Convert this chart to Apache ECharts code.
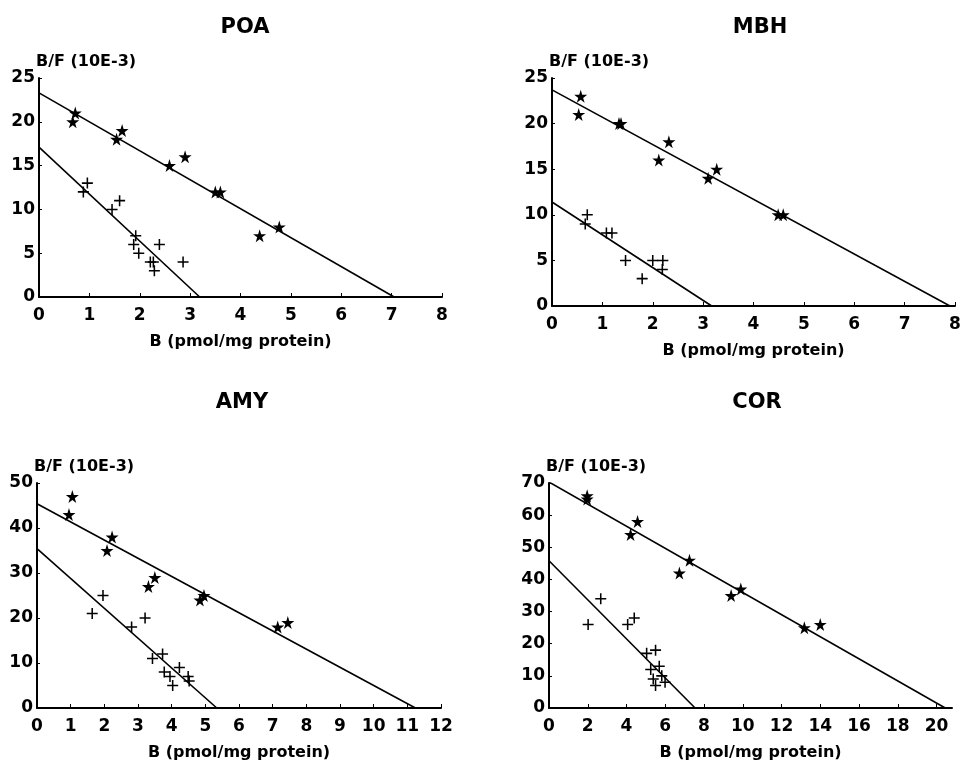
<!DOCTYPE html>
<html>
<head>
<meta charset="utf-8">
<script src="https://cdn.jsdelivr.net/npm/echarts@6/dist/echarts.min.js"></script>
<style>
  html, body { margin: 0; padding: 0; background: #fff; }
  #chart { width: 964px; height: 762px; }
</style>
</head>
<body>
<div id="chart"></div>
<script>
// panel names
const panels = ["POA", "MBH", "AMY", "COR"];

// POA
const poaStars = [[0.67, 20], [0.72, 21], [1.54, 18], [1.65, 19], [2.59, 15], [2.9, 16], [3.5, 12], [3.6, 12], [4.38, 7], [4.77, 8]];
const poaPlus = [[0.88, 12], [0.96, 13], [1.45, 10], [1.6, 11], [1.88, 6], [1.92, 7], [1.98, 5], [2.21, 4], [2.27, 4], [2.29, 3], [2.39, 6], [2.86, 4]];
const poaStarFit = [[0, 23.3], [7.05, 0]];
const poaPlusFit = [[0, 17.1], [3.19, 0]];

// MBH
const mbhStars = [[0.57, 23], [0.53, 21], [1.33, 20], [1.37, 20], [2.32, 18], [2.12, 16], [3.1, 14], [3.27, 15], [4.49, 10], [4.59, 10]];
const mbhPlus = [[0.7, 10], [0.66, 9], [1.08, 8], [1.19, 8], [1.46, 5], [1.79, 3], [2.0, 5], [2.2, 5], [2.19, 4]];
const mbhStarFit = [[0, 23.7], [7.9, 0]];
const mbhPlusFit = [[0, 11.4], [3.17, 0]];

// AMY
const amyStars = [[1.05, 47], [0.95, 43], [2.23, 38], [2.08, 35], [3.31, 27], [3.5, 29], [4.84, 24], [4.96, 25], [7.15, 18], [7.45, 19]];
const amyPlus = [[1.64, 21], [1.96, 25], [2.81, 18], [3.21, 20], [3.43, 11], [3.73, 12], [3.78, 8], [3.95, 7], [4.03, 5], [4.23, 9], [4.49, 7], [4.52, 6]];
const amyStarFit = [[0, 45.4], [11.24, 0]];
const amyPlusFit = [[0, 35.4], [5.34, 0]];

// COR
const corStars = [[1.97, 66], [1.97, 65], [4.21, 54], [4.57, 58], [7.25, 46], [6.73, 42], [9.4, 35], [9.9, 37], [13.18, 25], [14.0, 26]];
const corPlus = [[2.02, 26], [2.67, 34], [4.06, 26], [4.4, 28], [5.04, 17], [5.5, 18], [5.25, 12], [5.69, 13], [5.38, 9], [5.5, 7], [5.82, 10], [5.99, 8]];
const corStarFit = [[0, 70.3], [20.45, 0]];
const corPlusFit = [[0, 45.8], [7.54, 0]];

// axis ranges
const xMaxes = [8, 8, 12, 20.8];
const xSteps = [1, 1, 1, 2];
const yMaxes = [25, 25, 50, 70];
const ySteps = [5, 5, 10, 10];

const xName = "B (pmol/mg protein)";
const yName = "B/F (10E-3)";

const allStars = [poaStars, mbhStars, amyStars, corStars];
const allPlus = [poaPlus, mbhPlus, amyPlus, corPlus];
const allStarFit = [poaStarFit, mbhStarFit, amyStarFit, corStarFit];
const allPlusFit = [poaPlusFit, mbhPlusFit, amyPlusFit, corPlusFit];

const font = "DejaVu Sans";
const starPath = "path://M50,0 L61,35 L98,35 L68,57 L79,91 L50,70 L21,91 L32,57 L2,35 L39,35 Z";
const plusPath = "path://M4.3,0h1.4v10h-1.4zM0,4.3h10v1.4h-10z";

const grids = [
  { left: 39, top: 78, width: 403, height: 219 },
  { left: 552, top: 78, width: 403, height: 228 },
  { left: 37, top: 483, width: 404, height: 227 },
  { left: 549, top: 483, width: 403, height: 226 },
];
const titlePos = [[240, 12], [755, 12], [237, 387], [752, 387]];

const axisLine = { lineStyle: { color: "#000", width: 2 } };
const labelStyle = { color: "#000", fontFamily: font, fontWeight: "bold", fontSize: 17 };

const option = {
  backgroundColor: "#fff",
  animation: false,
  title: panels.map((p, i) => ({
    text: p,
    left: titlePos[i][0],
    top: titlePos[i][1],
    textAlign: "center",
    textStyle: { color: "#000", fontFamily: font, fontWeight: "bold", fontSize: 21 },
  })),
  grid: grids,
  xAxis: panels.map((p, i) => ({
    type: "value",
    gridIndex: i,
    min: 0,
    max: xMaxes[i],
    interval: xSteps[i],
    name: xName,
    nameLocation: "middle",
    nameGap: 37,
    nameTextStyle: { color: "#000", fontFamily: font, fontWeight: "bold", fontSize: 16 },
    axisLine: axisLine,
    axisTick: { inside: true, length: 4, lineStyle: { color: "#000" } },
    axisLabel: Object.assign({ margin: 10, showMaxLabel: i !== 3 }, labelStyle),
    splitLine: { show: false },
  })),
  yAxis: panels.map((p, i) => ({
    type: "value",
    gridIndex: i,
    min: 0,
    max: yMaxes[i],
    interval: ySteps[i],
    name: yName,
    nameLocation: "end",
    nameGap: 4,
    nameTextStyle: { color: "#000", fontFamily: font, fontWeight: "bold", fontSize: 16, align: "left", padding: [0, 0, 0, -3] },
    axisLine: axisLine,
    axisTick: { inside: true, length: 3, lineStyle: { color: "#000" } },
    axisLabel: Object.assign({ margin: 4 }, labelStyle),
    splitLine: { show: false },
  })),
  series: [],
};

panels.forEach((p, i) => {
  option.series.push({
    type: "line", xAxisIndex: i, yAxisIndex: i, data: allStarFit[i],
    symbol: "none", lineStyle: { color: "#000", width: 1.6 },
  });
  option.series.push({
    type: "line", xAxisIndex: i, yAxisIndex: i, data: allPlusFit[i],
    symbol: "none", lineStyle: { color: "#000", width: 1.6 },
  });
  option.series.push({
    type: "scatter", xAxisIndex: i, yAxisIndex: i, data: allStars[i],
    symbol: starPath, symbolSize: 13, itemStyle: { color: "#000", opacity: 1 },
  });
  option.series.push({
    type: "scatter", xAxisIndex: i, yAxisIndex: i, data: allPlus[i],
    symbol: plusPath, symbolSize: 11, itemStyle: { color: "#000", opacity: 1 },
  });
});

const myChart = echarts.init(document.getElementById("chart"));
myChart.setOption(option);

window.addEventListener("resize", function () {
  myChart.resize();
});
</script>
</body>
</html>
